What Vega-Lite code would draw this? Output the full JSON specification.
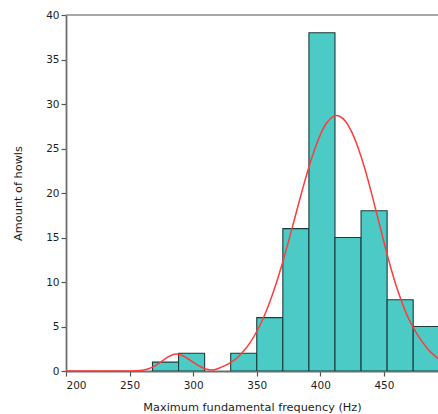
{
  "$schema": "https://vega.github.io/schema/vega-lite/v6.json",
  "autosize": {"type": "none"},
  "padding": {"left": 66, "top": 15, "right": 0, "bottom": 43},
  "width": 372,
  "height": 356,
  "background": "white",
  "config": {
    "view": {"stroke": null},
    "font": "DejaVu Sans",
    "axis": {
      "grid": false,
      "domainColor": "#6e6e6e",
      "domainWidth": 1.8,
      "tickColor": "#555555",
      "tickWidth": 1.2,
      "tickSize": 5,
      "labelFont": "DejaVu Sans",
      "labelFontSize": 10.5,
      "labelColor": "#1e1e1e",
      "titleFont": "DejaVu Sans",
      "titleFontSize": 11.3,
      "titleFontWeight": "normal",
      "titleColor": "#1e1e1e"
    }
  },
  "datasets": {
    "bars": [
      {"lo": 268, "hi": 288.5, "count": 1},
      {"lo": 288.5, "hi": 309, "count": 2},
      {"lo": 329.5, "hi": 350, "count": 2},
      {"lo": 350, "hi": 370.5, "count": 6},
      {"lo": 370.5, "hi": 391, "count": 16},
      {"lo": 391, "hi": 411.5, "count": 38},
      {"lo": 411.5, "hi": 432, "count": 15},
      {"lo": 432, "hi": 452.5, "count": 18},
      {"lo": 452.5, "hi": 473, "count": 8},
      {"lo": 473, "hi": 493.5, "count": 5}
    ],
    "curve": [
      {"f": 200, "d": 0}, {"f": 220, "d": 0}, {"f": 240, "d": 0},
      {"f": 250, "d": 0.01}, {"f": 255, "d": 0.03}, {"f": 260, "d": 0.09},
      {"f": 265, "d": 0.26}, {"f": 270, "d": 0.58}, {"f": 275, "d": 1.05},
      {"f": 280, "d": 1.55}, {"f": 285, "d": 1.87}, {"f": 287, "d": 1.9},
      {"f": 290, "d": 1.83}, {"f": 295, "d": 1.46}, {"f": 300, "d": 0.98},
      {"f": 305, "d": 0.55}, {"f": 310, "d": 0.22}, {"f": 315, "d": 0.12},
      {"f": 320, "d": 0.3}, {"f": 325, "d": 0.6}, {"f": 330, "d": 1.0},
      {"f": 335, "d": 1.55}, {"f": 340, "d": 2.3}, {"f": 345, "d": 3.25},
      {"f": 350, "d": 4.44}, {"f": 355, "d": 5.9}, {"f": 360, "d": 7.67},
      {"f": 365, "d": 9.73}, {"f": 370, "d": 12.06}, {"f": 375, "d": 14.59},
      {"f": 380, "d": 17.25}, {"f": 385, "d": 19.91}, {"f": 390, "d": 22.44},
      {"f": 395, "d": 24.7}, {"f": 400, "d": 26.56}, {"f": 405, "d": 27.89},
      {"f": 410, "d": 28.59}, {"f": 412.8, "d": 28.7}, {"f": 415, "d": 28.63},
      {"f": 420, "d": 28.01}, {"f": 425, "d": 26.75}, {"f": 430, "d": 24.95},
      {"f": 435, "d": 22.73}, {"f": 440, "d": 20.1}, {"f": 445, "d": 17.3},
      {"f": 450, "d": 14.5}, {"f": 455, "d": 11.8}, {"f": 460, "d": 9.4},
      {"f": 465, "d": 7.4}, {"f": 470, "d": 5.7}, {"f": 475, "d": 4.4},
      {"f": 480, "d": 3.3}, {"f": 485, "d": 2.4}, {"f": 490, "d": 1.7},
      {"f": 495, "d": 1.17}
    ]
  },
  "layer": [
    {
      "data": {"name": "bars"},
      "mark": {"type": "bar", "fill": "#4ccbc6", "stroke": "#1c3b3b", "strokeWidth": 1.1, "clip": true},
      "encoding": {
        "x": {
          "field": "lo", "type": "quantitative",
          "scale": {"domain": [200, 492.5], "nice": false, "zero": false},
          "axis": {"values": [200, 250, 300, 350, 400, 450], "title": "Maximum fundamental frequency (Hz)", "titlePadding": 11, "labelPadding": 4}
        },
        "x2": {"field": "hi"},
        "y": {
          "field": "count", "type": "quantitative",
          "scale": {"domain": [0, 40], "nice": false},
          "axis": {"values": [0, 5, 10, 15, 20, 25, 30, 35, 40], "title": "Amount of howls", "titlePadding": 22, "labelPadding": 2}
        },
        "y2": {"datum": 0}
      }
    },
    {
      "data": {"name": "curve"},
      "mark": {"type": "line", "color": "#ff3b3b", "strokeWidth": 1.5, "clip": true, "interpolate": "monotone"},
      "encoding": {
        "x": {"field": "f", "type": "quantitative"},
        "y": {"field": "d", "type": "quantitative"}
      }
    },
    {
      "data": {"values": [{}]},
      "mark": {"type": "rule", "color": "#888888", "strokeWidth": 1.5},
      "encoding": {"y": {"datum": 40}}
    }
  ]
}
